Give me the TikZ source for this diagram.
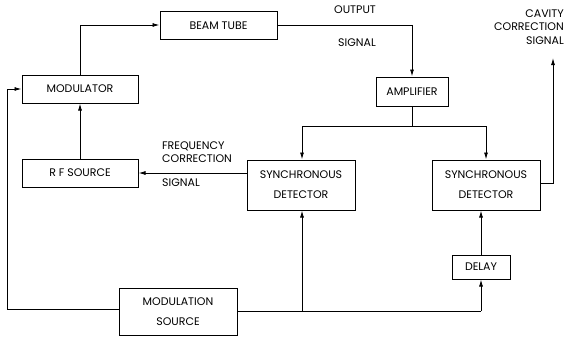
\documentclass[tikz,border=0pt]{standalone}
\usepackage{fontspec}
\setmainfont{Poppins}
\usetikzlibrary{arrows.meta}
\begin{document}
\begin{tikzpicture}[x=1pt,y=-1pt,
  font=\fontsize{11}{20}\selectfont,
  blk/.style={draw,line width=1pt,inner sep=0pt,align=center,anchor=center},
  wire/.style={line width=0.9pt},
  arr/.style={wire,-{Latex[length=7pt,width=4pt]}},
  lbl/.style={inner sep=0pt}]
\useasboundingbox (0,0) rectangle (569,337);
% blocks
\node[blk,minimum width=117pt,minimum height=28pt] (beam) at (218.5,26) {BEAM TUBE};
\node[blk,minimum width=116pt,minimum height=28pt] (mod) at (80,89) {MODULATOR};
\node[blk,minimum width=72pt,minimum height=29pt] (amp) at (412,91.5) {AMPLIFIER};
\node[blk,minimum width=116pt,minimum height=28pt] (rf) at (80,173) {R F SOURCE};
\node[blk,minimum width=108pt,minimum height=50pt] (sdl) at (301,185) {SYNCHRONOUS\\DETECTOR};
\node[blk,minimum width=108pt,minimum height=50pt] (sdr) at (486,185) {SYNCHRONOUS\\DETECTOR};
\node[blk,minimum width=58pt,minimum height=24pt] (delay) at (481,267) {DELAY};
\node[blk,minimum width=118pt,minimum height=47pt] (ms) at (178,311.5) {MODULATION\\SOURCE};
% coordinates
\coordinate (otop) at (412,25);
\coordinate (mtop) at (80,25);
\coordinate (asplit) at (412,126);
\coordinate (aL) at (302,126);
\coordinate (aR) at (486,126);
\coordinate (cav) at (553,183);
\coordinate (cavtip) at (553,58);
\coordinate (lowL) at (7,309);
\coordinate (modL) at (7,89);
\coordinate (lowJ) at (302,311);
\coordinate (lowR) at (481,311);
% connectors
\draw[wire] (beam.east |- otop) -- (otop);
\draw[arr] (otop) -- (amp.north);
\draw[arr] (mod.north) -- (mtop) -- (beam.west |- mtop);
\draw[arr] (rf.north) -- (mod.south);
\draw[arr] (sdl.west |- rf) -- (rf.east);
\draw[wire] (amp.south) -- (asplit);
\draw[wire] (aL) -- (aR);
\draw[arr] (aL) -- (aL |- sdl.north);
\draw[arr] (aR) -- (sdr.north);
\draw[arr] (sdr.east |- cav) -- (cav) -- (cavtip);
\draw[arr] (ms.west |- lowL) -- (lowL) -- (modL) -- (mod.west);
\draw[wire] (ms.east |- lowR) -- (lowR);
\draw[arr] (lowJ) -- (lowJ |- sdl.south);
\draw[arr] (lowR) -- (delay.south);
\draw[arr] (delay.north) -- (delay.north |- sdr.south);
% labels
\node[lbl] (out1) at (355,10) {OUTPUT};
\node[lbl] (out2) at (357,43) {SIGNAL};
\node[lbl,anchor=west] (fc1) at (162,146) {FREQUENCY};
\node[lbl,anchor=west] (fc2) at (162,159) {CORRECTION};
\node[lbl,anchor=west] (fc3) at (162,183) {SIGNAL};
\node[lbl,anchor=east] (cc1) at (564,14) {CAVITY};
\node[lbl,anchor=east] (cc2) at (564,27) {CORRECTION};
\node[lbl,anchor=east] (cc3) at (564,41) {SIGNAL};
\end{tikzpicture}
\end{document}
